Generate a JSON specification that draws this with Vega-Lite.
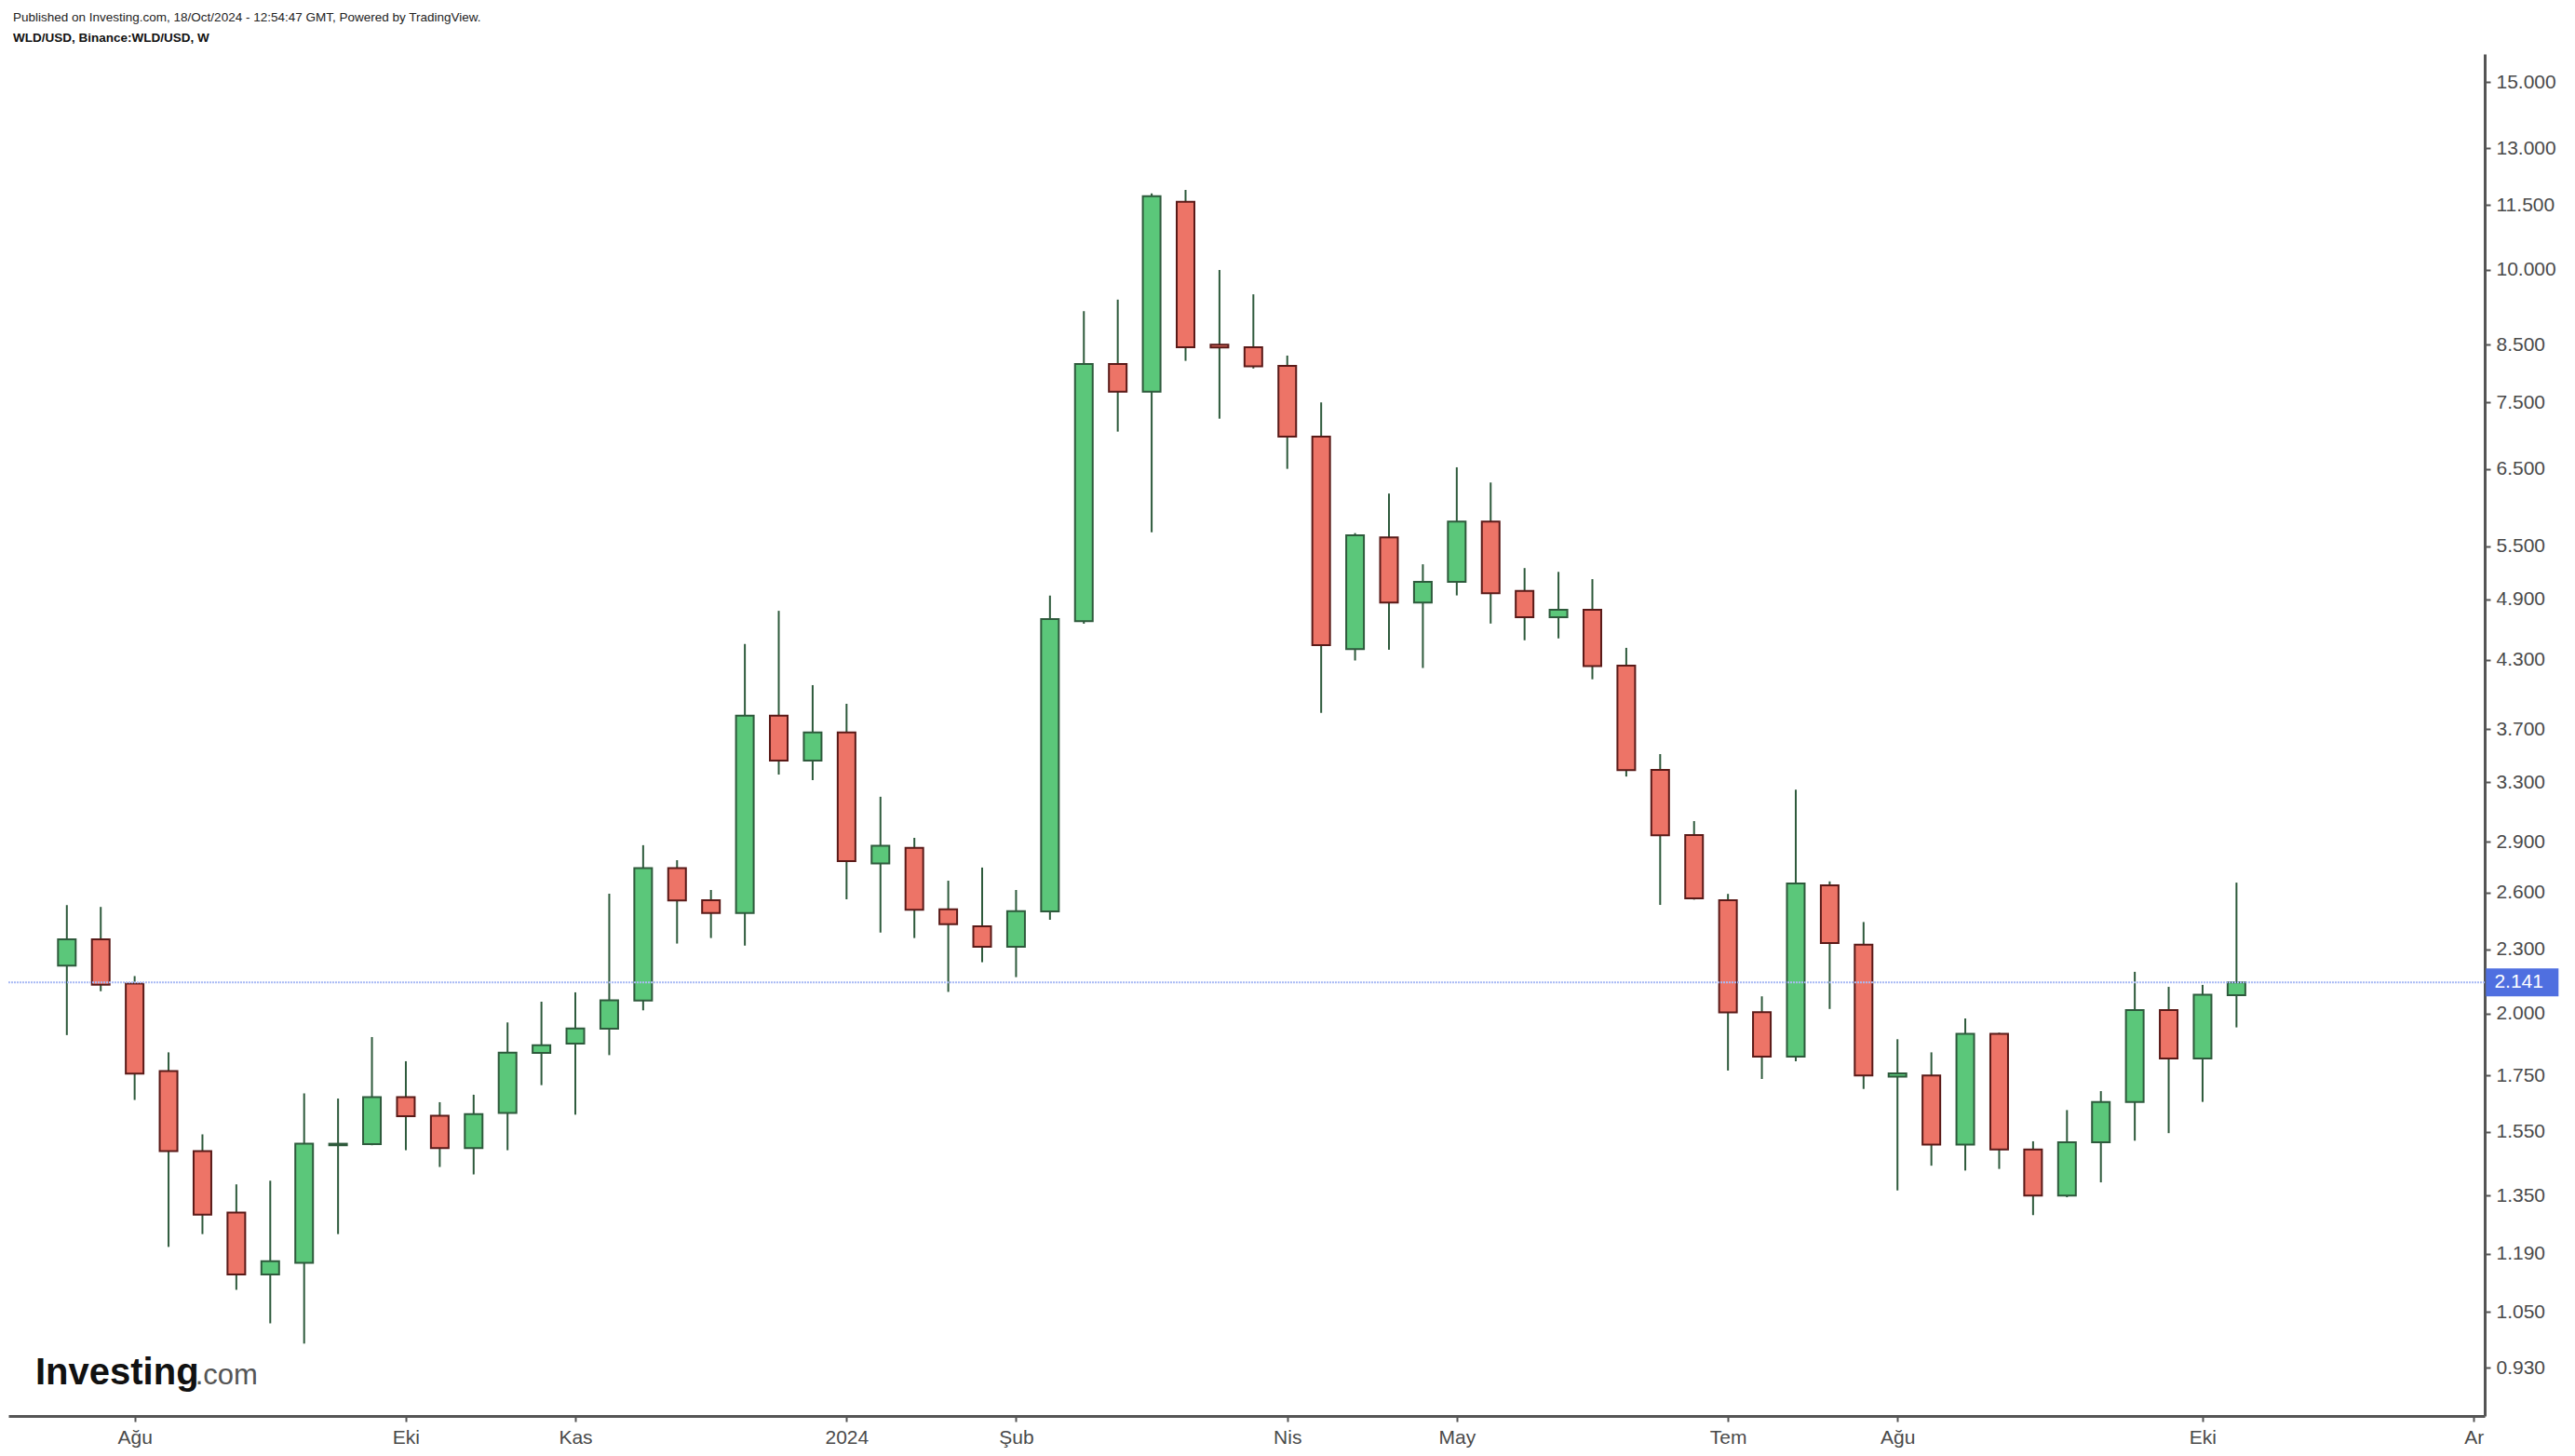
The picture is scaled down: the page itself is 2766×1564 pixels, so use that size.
{
  "$schema": "https://vega.github.io/schema/vega-lite/v6.json",
  "width": 2660,
  "height": 1463,
  "autosize": {"type": "none"},
  "padding": {"left": 9, "top": 58, "right": 97, "bottom": 43},
  "background": "white",
  "config": {"view": {"stroke": null}},
  "title": {
    "text": "Published on Investing.com, 18/Oct/2024 - 12:54:47 GMT, Powered by TradingView.",
    "subtitle": "WLD/USD, Binance:WLD/USD, W",
    "anchor": "start",
    "frame": "group",
    "offset": 11,
    "dx": 5,
    "font": "Liberation Sans",
    "fontSize": 13.5,
    "fontWeight": "normal",
    "color": "#222222",
    "subtitleFont": "Liberation Sans",
    "subtitleFontSize": 13.5,
    "subtitleFontWeight": "bold",
    "subtitleColor": "#111111",
    "subtitlePadding": 8
  },
  "data": {"values": [
    {"date": "2023-07-24", "open": 2.22, "high": 2.53, "low": 1.91, "close": 2.35},
    {"date": "2023-07-31", "open": 2.35, "high": 2.52, "low": 2.10, "close": 2.13},
    {"date": "2023-08-07", "open": 2.135, "high": 2.17, "low": 1.66, "close": 1.757},
    {"date": "2023-08-14", "open": 1.767, "high": 1.84, "low": 1.208, "close": 1.486},
    {"date": "2023-08-21", "open": 1.486, "high": 1.541, "low": 1.242, "close": 1.295},
    {"date": "2023-08-28", "open": 1.301, "high": 1.383, "low": 1.101, "close": 1.138},
    {"date": "2023-09-04", "open": 1.138, "high": 1.394, "low": 1.024, "close": 1.171},
    {"date": "2023-09-11", "open": 1.167, "high": 1.684, "low": 0.98, "close": 1.51},
    {"date": "2023-09-18", "open": 1.505, "high": 1.665, "low": 1.242, "close": 1.51},
    {"date": "2023-09-25", "open": 1.509, "high": 1.902, "low": 1.505, "close": 1.67},
    {"date": "2023-10-02", "open": 1.67, "high": 1.805, "low": 1.489, "close": 1.603},
    {"date": "2023-10-09", "open": 1.604, "high": 1.652, "low": 1.436, "close": 1.496},
    {"date": "2023-10-16", "open": 1.496, "high": 1.679, "low": 1.413, "close": 1.61},
    {"date": "2023-10-23", "open": 1.614, "high": 1.963, "low": 1.489, "close": 1.839},
    {"date": "2023-10-30", "open": 1.838, "high": 2.053, "low": 1.714, "close": 1.869},
    {"date": "2023-11-06", "open": 1.875, "high": 2.095, "low": 1.608, "close": 1.938},
    {"date": "2023-11-13", "open": 1.937, "high": 2.593, "low": 1.829, "close": 2.059},
    {"date": "2023-11-20", "open": 2.058, "high": 2.88, "low": 2.015, "close": 2.74},
    {"date": "2023-11-27", "open": 2.74, "high": 2.788, "low": 2.328, "close": 2.556},
    {"date": "2023-12-04", "open": 2.557, "high": 2.614, "low": 2.356, "close": 2.487},
    {"date": "2023-12-11", "open": 2.487, "high": 4.449, "low": 2.318, "close": 3.811},
    {"date": "2023-12-18", "open": 3.811, "high": 4.781, "low": 3.355, "close": 3.459},
    {"date": "2023-12-25", "open": 3.459, "high": 4.071, "low": 3.315, "close": 3.676},
    {"date": "2024-01-01", "open": 3.676, "high": 3.91, "low": 2.562, "close": 2.782},
    {"date": "2024-01-08", "open": 2.769, "high": 3.198, "low": 2.384, "close": 2.876},
    {"date": "2024-01-15", "open": 2.864, "high": 2.926, "low": 2.356, "close": 2.504},
    {"date": "2024-01-22", "open": 2.507, "high": 2.667, "low": 2.097, "close": 2.427},
    {"date": "2024-01-29", "open": 2.417, "high": 2.744, "low": 2.236, "close": 2.312},
    {"date": "2024-02-05", "open": 2.312, "high": 2.614, "low": 2.165, "close": 2.497},
    {"date": "2024-02-12", "open": 2.496, "high": 4.94, "low": 2.451, "close": 4.696},
    {"date": "2024-02-19", "open": 4.674, "high": 9.142, "low": 4.65, "close": 8.155},
    {"date": "2024-02-26", "open": 8.155, "high": 9.371, "low": 7.044, "close": 7.679},
    {"date": "2024-03-04", "open": 7.679, "high": 11.79, "low": 5.665, "close": 11.72},
    {"date": "2024-03-11", "open": 11.58, "high": 11.88, "low": 8.209, "close": 8.455},
    {"date": "2024-03-18", "open": 8.5, "high": 9.991, "low": 7.244, "close": 8.45},
    {"date": "2024-03-25", "open": 8.455, "high": 9.479, "low": 8.074, "close": 8.114},
    {"date": "2024-04-01", "open": 8.12, "high": 8.303, "low": 6.499, "close": 6.969},
    {"date": "2024-04-08", "open": 6.969, "high": 7.505, "low": 3.834, "close": 4.438},
    {"date": "2024-04-15", "open": 4.402, "high": 5.656, "low": 4.294, "close": 5.63},
    {"date": "2024-04-22", "open": 5.605, "high": 6.161, "low": 4.395, "close": 4.866},
    {"date": "2024-04-29", "open": 4.866, "high": 5.287, "low": 4.225, "close": 5.091},
    {"date": "2024-05-06", "open": 5.091, "high": 6.521, "low": 4.943, "close": 5.798},
    {"date": "2024-05-13", "open": 5.798, "high": 6.31, "low": 4.651, "close": 4.967},
    {"date": "2024-05-20", "open": 4.992, "high": 5.244, "low": 4.486, "close": 4.716},
    {"date": "2024-05-27", "open": 4.716, "high": 5.201, "low": 4.504, "close": 4.791},
    {"date": "2024-06-03", "open": 4.791, "high": 5.12, "low": 4.123, "close": 4.243},
    {"date": "2024-06-10", "open": 4.246, "high": 4.413, "low": 3.341, "close": 3.388},
    {"date": "2024-06-17", "open": 3.39, "high": 3.507, "low": 2.531, "close": 2.942},
    {"date": "2024-06-24", "open": 2.944, "high": 3.034, "low": 2.56, "close": 2.567},
    {"date": "2024-07-01", "open": 2.557, "high": 2.592, "low": 1.769, "close": 2.006},
    {"date": "2024-07-08", "open": 2.007, "high": 2.077, "low": 1.737, "close": 1.823},
    {"date": "2024-07-15", "open": 1.823, "high": 3.247, "low": 1.805, "close": 2.651},
    {"date": "2024-07-22", "open": 2.641, "high": 2.663, "low": 2.021, "close": 2.331},
    {"date": "2024-07-29", "open": 2.322, "high": 2.439, "low": 1.70, "close": 1.75},
    {"date": "2024-08-05", "open": 1.746, "high": 1.893, "low": 1.365, "close": 1.758},
    {"date": "2024-08-12", "open": 1.75, "high": 1.84, "low": 1.44, "close": 1.507},
    {"date": "2024-08-19", "open": 1.507, "high": 1.98, "low": 1.425, "close": 1.915},
    {"date": "2024-08-26", "open": 1.915, "high": 1.92, "low": 1.43, "close": 1.491},
    {"date": "2024-09-02", "open": 1.491, "high": 1.518, "low": 1.294, "close": 1.35},
    {"date": "2024-09-09", "open": 1.35, "high": 1.624, "low": 1.345, "close": 1.515},
    {"date": "2024-09-16", "open": 1.515, "high": 1.692, "low": 1.389, "close": 1.653},
    {"date": "2024-09-23", "open": 1.653, "high": 2.19, "low": 1.52, "close": 2.016},
    {"date": "2024-09-30", "open": 2.016, "high": 2.12, "low": 1.545, "close": 1.816},
    {"date": "2024-10-07", "open": 1.816, "high": 2.129, "low": 1.653, "close": 2.084},
    {"date": "2024-10-14", "open": 2.082, "high": 2.656, "low": 1.942, "close": 2.141}
  ]},
  "layer": [
    {
      "mark": {"type": "rule", "color": "#2e5a3c", "strokeWidth": 2},
      "encoding": {
        "x": {
          "field": "date", "type": "temporal",
          "scale": {"type": "utc", "domain": [
            {"year": 2023, "month": 7, "date": 12, "hours": 21, "minutes": 20, "utc": true},
            {"year": 2024, "month": 12, "date": 3, "hours": 7, "utc": true}
          ], "nice": false},
          "axis": {
            "title": null,
            "orient": "bottom",
            "grid": false,
            "values": [
              {"year": 2023, "month": 8, "date": 7, "utc": true},
              {"year": 2023, "month": 10, "date": 2, "utc": true},
              {"year": 2023, "month": 11, "date": 6, "utc": true},
              {"year": 2024, "month": 1, "date": 1, "utc": true},
              {"year": 2024, "month": 2, "date": 5, "utc": true},
              {"year": 2024, "month": 4, "date": 1, "utc": true},
              {"year": 2024, "month": 5, "date": 6, "utc": true},
              {"year": 2024, "month": 7, "date": 1, "utc": true},
              {"year": 2024, "month": 8, "date": 5, "utc": true},
              {"year": 2024, "month": 10, "date": 7, "utc": true},
              {"year": 2024, "month": 12, "date": 2, "utc": true}
            ],
            "labelExpr": "utcmonth(datum.value) == 0 ? '' + utcyear(datum.value) : ['Oca','Şub','Mar','Nis','May','Haz','Tem','Ağu','Eyl','Eki','Kas','Ar'][utcmonth(datum.value)]",
            "labelFont": "Liberation Sans",
            "labelFontSize": 21,
            "labelColor": "#4a4a4a",
            "labelPadding": 6,
            "labelFlush": false,
            "labelOverlap": false,
            "domainColor": "#555555",
            "domainWidth": 3,
            "tickColor": "#555555",
            "tickSize": 6,
            "tickWidth": 2
          }
        },
        "y": {
          "field": "low", "type": "quantitative",
          "scale": {"type": "log", "domain": [0.8381, 15.94], "nice": false, "zero": false},
          "axis": {
            "title": null,
            "orient": "right",
            "grid": false,
            "values": [0.93, 1.05, 1.19, 1.35, 1.55, 1.75, 2.0, 2.3, 2.6, 2.9, 3.3, 3.7, 4.3, 4.9, 5.5, 6.5, 7.5, 8.5, 10, 11.5, 13, 15],
            "format": ".3f",
            "labelFont": "Liberation Sans",
            "labelFontSize": 21,
            "labelColor": "#4a4a4a",
            "labelPadding": 6,
            "labelOverlap": false,
            "labelFlush": false,
            "domainColor": "#555555",
            "domainWidth": 3,
            "tickColor": "#555555",
            "tickSize": 6,
            "tickWidth": 2
          }
        },
        "y2": {"field": "high"}
      }
    },
    {
      "mark": {"type": "bar", "width": 19, "strokeWidth": 2},
      "encoding": {
        "x": {"field": "date", "type": "temporal"},
        "y": {"field": "open", "type": "quantitative"},
        "y2": {"field": "close"},
        "fill": {"condition": {"test": "datum.close >= datum.open", "value": "#5bc77a"}, "value": "#ed7467"},
        "stroke": {"condition": {"test": "datum.close >= datum.open", "value": "#2e5a3c"}, "value": "#5a1a18"}
      }
    },
    {
      "data": {"values": [{}]},
      "mark": {"type": "rule", "color": "#a9baf5", "strokeWidth": 2, "strokeDash": [2, 1]},
      "encoding": {"y": {"datum": 2.141}}
    },
    {
      "data": {"values": [{}]},
      "mark": {"type": "rule", "color": "#4f6fe0", "strokeWidth": 30, "strokeCap": "butt", "clip": false},
      "encoding": {
        "x": {"datum": {"year": 2024, "month": 12, "date": 4, "hours": 12, "utc": true}},
        "x2": {"datum": {"year": 2024, "month": 12, "date": 19, "hours": 12, "utc": true}},
        "y": {"datum": 2.141}
      }
    },
    {
      "data": {"values": [{}]},
      "mark": {"type": "text", "text": "2.141", "color": "white", "font": "Liberation Sans", "fontSize": 21, "align": "left", "baseline": "middle", "clip": false},
      "encoding": {
        "x": {"datum": {"year": 2024, "month": 12, "date": 6, "hours": 6, "utc": true}},
        "y": {"datum": 2.141}
      }
    },
    {
      "data": {"values": [{}]},
      "mark": {"type": "text", "text": "Investing", "color": "#111111", "font": "Liberation Sans", "fontSize": 40, "fontWeight": "bold", "align": "left", "baseline": "alphabetic"},
      "encoding": {
        "x": {"datum": {"year": 2023, "month": 7, "date": 17, "hours": 12, "utc": true}},
        "y": {"datum": 0.8974}
      }
    },
    {
      "data": {"values": [{}]},
      "mark": {"type": "text", "text": ".com", "color": "#555555", "font": "Liberation Sans", "fontSize": 31, "align": "left", "baseline": "alphabetic"},
      "encoding": {
        "x": {"datum": {"year": 2023, "month": 8, "date": 19, "hours": 12, "utc": true}},
        "y": {"datum": 0.8974}
      }
    }
  ]
}
